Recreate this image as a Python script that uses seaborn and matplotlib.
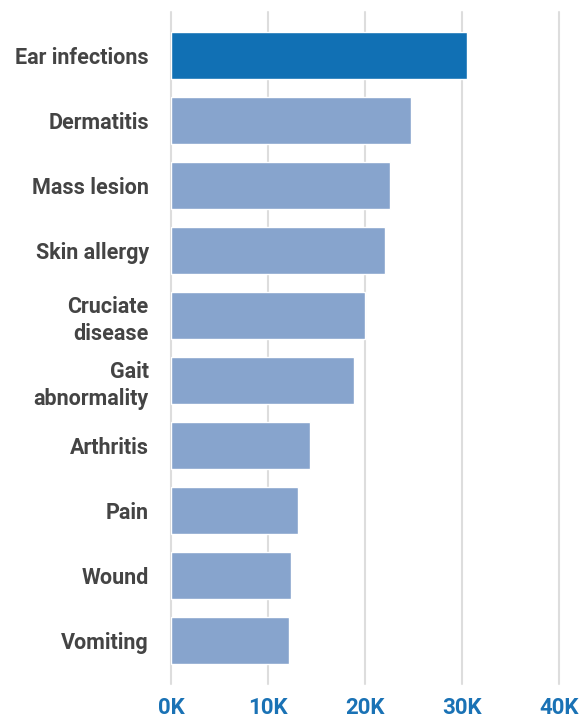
import matplotlib
matplotlib.use("Agg")
import matplotlib.pyplot as plt
import seaborn as sns
import pandas as pd
from matplotlib.ticker import FuncFormatter

categories = ["Ear infections", "Dermatitis", "Mass lesion", "Skin allergy",
              "Cruciate\ndisease", "Gait\nabnormality", "Arthritis", "Pain",
              "Wound", "Vomiting"]
cases = [30500, 24700, 22600, 22000, 20000, 18850, 14300, 13100, 12400, 12150]
x_ticks = [0, 10000, 20000, 30000, 40000]

HIGHLIGHT = "#1170b4"
BASE = "#87a4cd"
TEXT = "#444444"
TICK_BLUE = "#1a72b5"

df = pd.DataFrame({"condition": categories, "cases": cases})
palette = {c: (HIGHLIGHT if i == 0 else BASE) for i, c in enumerate(categories)}

sns.set_theme(style="white")
plt.rcParams["font.family"] = ["Roboto", "DejaVu Sans"]

fig = plt.figure(figsize=(5.82, 7.18), dpi=100)
ax = fig.add_axes([171 / 582, 1 - 684 / 718, (559.3 - 171) / 582, (684 - 12) / 718])

sns.barplot(data=df, y="condition", x="cases", hue="condition", palette=palette,
            orient="h", width=0.72, legend=False, saturation=1, ax=ax, zorder=3)

ax.set_xlim(0, 40000)
ax.set_ylim(9.67, -0.67)
ax.set_xticks(x_ticks)
ax.xaxis.set_major_formatter(FuncFormatter(lambda v, _: f"{int(v / 1000)}K"))
ax.set_xlabel("")
ax.set_ylabel("")

ax.grid(axis="x", color="#dddddd", linewidth=1.5, zorder=0)
ax.grid(axis="y", visible=False)
for line in ax.get_xgridlines():
    line.set_clip_on(False)
ax.set_axisbelow(True)
for s in ax.spines.values():
    s.set_visible(False)

ax.tick_params(axis="x", length=0, pad=9, labelsize=16, labelcolor=TICK_BLUE)
ax.tick_params(axis="y", length=0, pad=16, labelsize=15.5, labelcolor=TEXT)
for lbl in ax.get_xticklabels():
    lbl.set_fontweight("semibold")
for lbl in ax.get_yticklabels():
    lbl.set_fontweight("semibold")
    lbl.set_multialignment("right")
    lbl.set_linespacing(1.3)

fig.savefig("out.png", dpi=100)
